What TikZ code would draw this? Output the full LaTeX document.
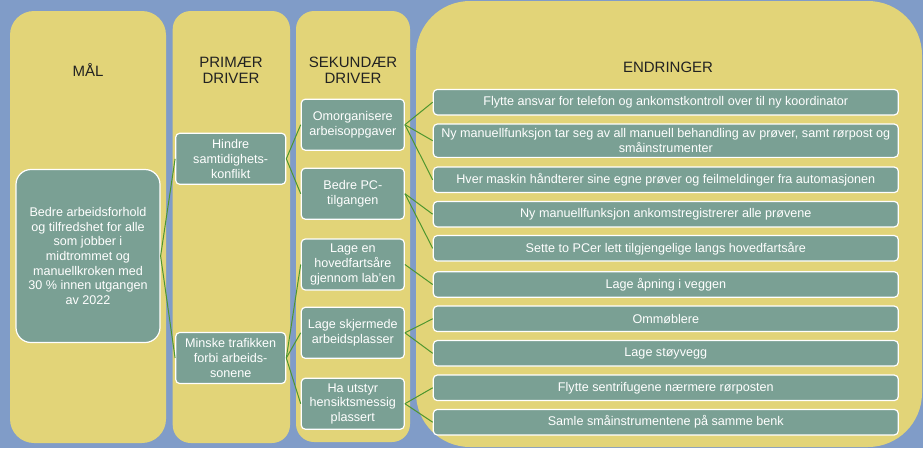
\documentclass[tikz,border=0pt]{standalone}
\usepackage{fontspec}
\setmainfont{Liberation Sans}
\definecolor{blaa}{RGB}{128,156,200}
\definecolor{gul}{RGB}{226,212,120}
\definecolor{boksgronn}{RGB}{122,160,148}
\definecolor{strek}{RGB}{78,150,46}
\definecolor{tekst}{RGB}{34,34,34}
\begin{document}
\begin{tikzpicture}[x=1pt,y=-1pt]
	% Styles
	\tikzstyle{kolonne}=[fill=gul]
	\tikzstyle{tittel}=[text=tekst,align=center,font=\fontsize{15}{16.5}\selectfont]
	\tikzstyle{boks}=[draw=white,line width=1.2pt,fill=boksgronn,text=white,align=center,inner sep=0pt,rounded corners=4pt,font=\fontsize{12.6}{14.7}\selectfont]
	\tikzstyle{maal}=[boks,rounded corners=15pt,minimum width=144pt,minimum height=173pt]
	\tikzstyle{primaer}=[boks,minimum width=110pt,minimum height=51pt]
	\tikzstyle{sekundaer}=[boks,minimum width=103pt,minimum height=51pt]
	\tikzstyle{endring}=[boks,minimum width=465pt,minimum height=25.5pt]
	\tikzstyle{linje}=[-,draw=strek,line width=1pt]
	% Dimensions
	\def\NivaA{88}
	\def\NivaB{230.7}
	\def\NivaC{352.8}
	\def\NivaD{665.8}
	% Bakgrunn og kolonner
	\fill[blaa] (0,0) rectangle (923,448);
	\useasboundingbox (0,0) rectangle (923,448);
	\fill[kolonne,rounded corners=24pt] (10,11) rectangle (166,443);
	\fill[kolonne,rounded corners=18pt] (172.7,11) rectangle (290,443);
	\fill[kolonne,rounded corners=18pt] (296,11) rectangle (410,442);
	\fill[kolonne,rounded corners=54pt] (416,1) rectangle (922,447);
	% Titler
	\node[tittel] (t1) at (\NivaA,70) {MÅL};
	\node[tittel] (t2) at (231,70.5) {PRIMÆR\\DRIVER};
	\node[tittel] (t3) at (353,70.5) {SEKUNDÆR\\DRIVER};
	\node[tittel] (t4) at (668,67) {ENDRINGER};
	% Noder
	\node[maal] (M) at (\NivaA,256) {Bedre arbeidsforhold\\og tilfredshet for alle\\som jobber i\\midtrommet og\\manuellkroken med\\30 \% innen utgangen\\av 2022};
	%
	\node[primaer] (Ma) at (\NivaB,158.8) {Hindre\\samtidighets-\\konflikt};
	\node[primaer] (Mb) at (\NivaB,358) {Minske trafikken\\forbi arbeids-\\sonene};
	%
	\node[sekundaer] (Maa) at (\NivaC,124.7) {Omorganisere\\arbeisoppgaver};
	\node[sekundaer] (Mab) at (\NivaC,193.7) {Bedre PC-\\tilgangen};
	\node[sekundaer] (Mba) at (\NivaC,264.5) {Lage en\\hovedfartsåre\\gjennom lab’en};
	\node[sekundaer] (Mbb) at (\NivaC,332.8) {Lage skjermede\\arbeidsplasser};
	\node[sekundaer] (Mbc) at (\NivaC,403.7) {Ha utstyr\\hensiktsmessig\\plassert};
	%
	\node[endring] (Maaa) at (\NivaD,102.2) {Flytte ansvar for telefon og ankomstkontroll over til ny koordinator};
	\node[endring,minimum height=33.3pt] (Maab) at (\NivaD,140.7) {Ny manuellfunksjon tar seg av all manuell behandling av prøver, samt rørpost og\\småinstrumenter};
	\node[endring] (Maac) at (\NivaD,179.8) {Hver maskin håndterer sine egne prøver og feilmeldinger fra automasjonen};
	\node[endring] (Maba) at (\NivaD,214.2) {Ny manuellfunksjon ankomstregistrerer alle prøvene};
	\node[endring] (Mabb) at (\NivaD,248.3) {Sette to PCer lett tilgjengelige langs hovedfartsåre};
	\node[endring] (Mbaa) at (\NivaD,284.5) {Lage åpning i veggen};
	\node[endring] (Mbba) at (\NivaD,318.8) {Ommøblere};
	\node[endring] (Mbbb) at (\NivaD,353.3) {Lage støyvegg};
	\node[endring] (Mbca) at (\NivaD,387.8) {Flytte sentrifugene nærmere rørposten};
	\node[endring] (Mbcb) at (\NivaD,422.2) {Samle småinstrumentene på samme benk};
	% Linjer
	\draw[linje] (M.east)--(Ma.west);
	\draw[linje] (M.east)--(Mb.west);
	\draw[linje] (Ma.east)--(Maa.west);
	\draw[linje] (Ma.east)--(Mab.west);
	\draw[linje] (Mb.east)--(Mba.west);
	\draw[linje] (Mb.east)--(Mbb.west);
	\draw[linje] (Mb.east)--(Mbc.west);
	\draw[linje] (Maa.east)--(Maaa.west);
	\draw[linje] (Maa.east)--(Maab.west);
	\draw[linje] (Maa.east)--(Maac.west);
	\draw[linje] (Mab.east)--(Maba.west);
	\draw[linje] (Mab.east)--(Mabb.west);
	\draw[linje] (Mba.east)--(Mbaa.west);
	\draw[linje] (Mbb.east)--(Mbba.west);
	\draw[linje] (Mbb.east)--(Mbbb.west);
	\draw[linje] (Mbc.east)--(Mbca.west);
	\draw[linje] (Mbc.east)--(Mbcb.west);
\end{tikzpicture}
\end{document}
